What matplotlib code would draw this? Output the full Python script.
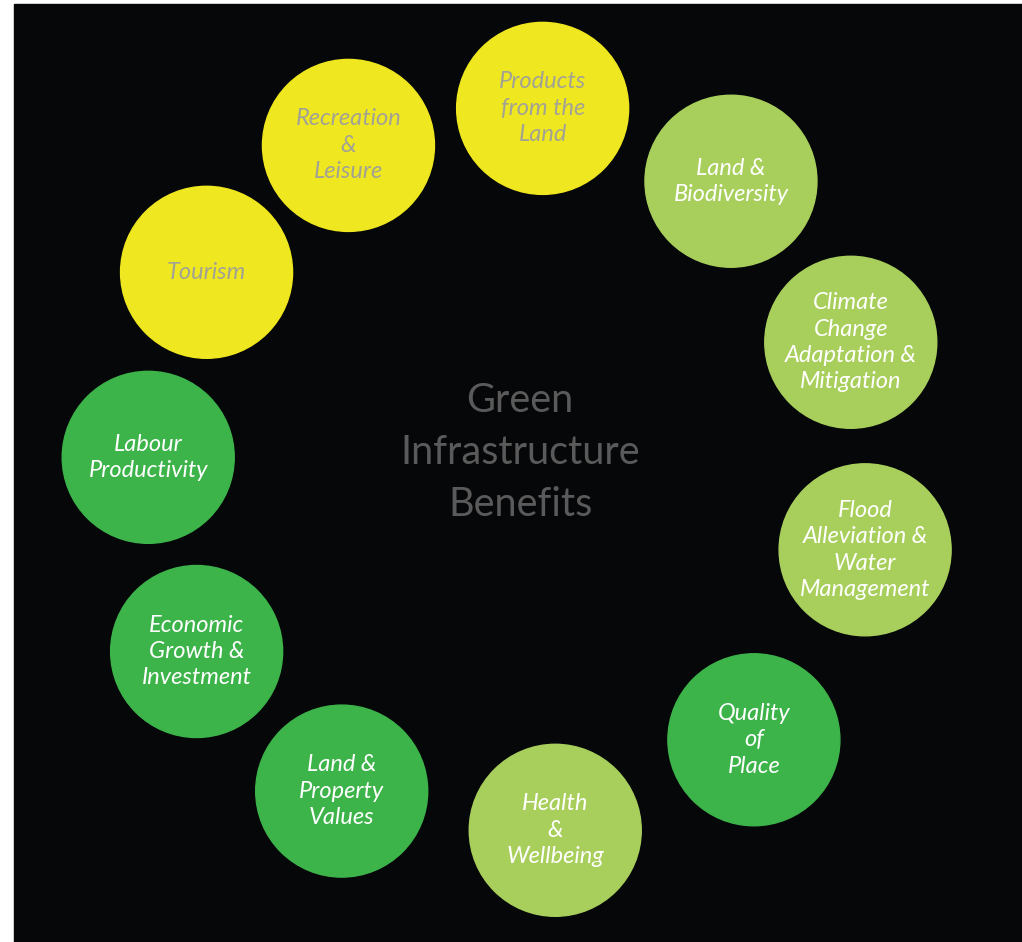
import matplotlib.pyplot as plt
from matplotlib.patches import Circle, Rectangle
import numpy as np

# benefits, clockwise from the top
labels = [
    "Products\nfrom the\nLand",
    "Land &\nBiodiversity",
    "Climate\nChange\nAdaptation &\nMitigation",
    "Flood\nAlleviation &\nWater\nManagement",
    "Quality\nof\nPlace",
    "Health\n&\nWellbeing",
    "Land &\nProperty\nValues",
    "Economic\nGrowth &\nInvestment",
    "Labour\nProductivity",
    "Tourism",
    "Recreation\n&\nLeisure",
]
groups = ["land", "environment", "environment", "environment", "economy",
          "environment", "economy", "economy", "economy", "land", "land"]
center_title = "Green\nInfrastructure\nBenefits"

# layout (pixel space of the picture)
ring_angles = [85, 52.7, 20.6, -12.7, -48, -83, -117.8, -150, -182, -213, -243.4]
ring_cx, ring_cy, ring_r = 511, 470, 363
bubble_r = 86

fill = {"land": "#efe71f", "environment": "#a8cf5b", "economy": "#3cb44a"}
ink = {"land": "#a2a295", "environment": "#ffffff", "economy": "#ffffff"}

fig = plt.figure(figsize=(10.22, 9.42), dpi=100, facecolor="white")
ax = fig.add_axes([0, 0, 1, 1])
ax.set_xlim(0, 1022)
ax.set_ylim(942, 0)
ax.set_aspect("equal")
ax.axis("off")

ax.add_patch(Rectangle((14, 4), 1008, 938, color="#060709", zorder=0))

for lab, grp, ang in zip(labels, groups, ring_angles):
    x = ring_cx + ring_r * np.cos(np.radians(ang))
    y = ring_cy - ring_r * np.sin(np.radians(ang))
    ax.add_patch(Circle((x, y), bubble_r, color=fill[grp], zorder=1))
    ax.text(x, y, lab, ha="center", va="center", color=ink[grp],
            fontsize=17, style="italic", family="Lato",
            linespacing=1.32, zorder=2)

ax.text(520, 453, center_title, ha="center", va="center",
        color="#5a5a5a", fontsize=28.5, family="Lato", linespacing=1.5)

fig.savefig("out.png", dpi=100, facecolor="white")
plt.close(fig)
